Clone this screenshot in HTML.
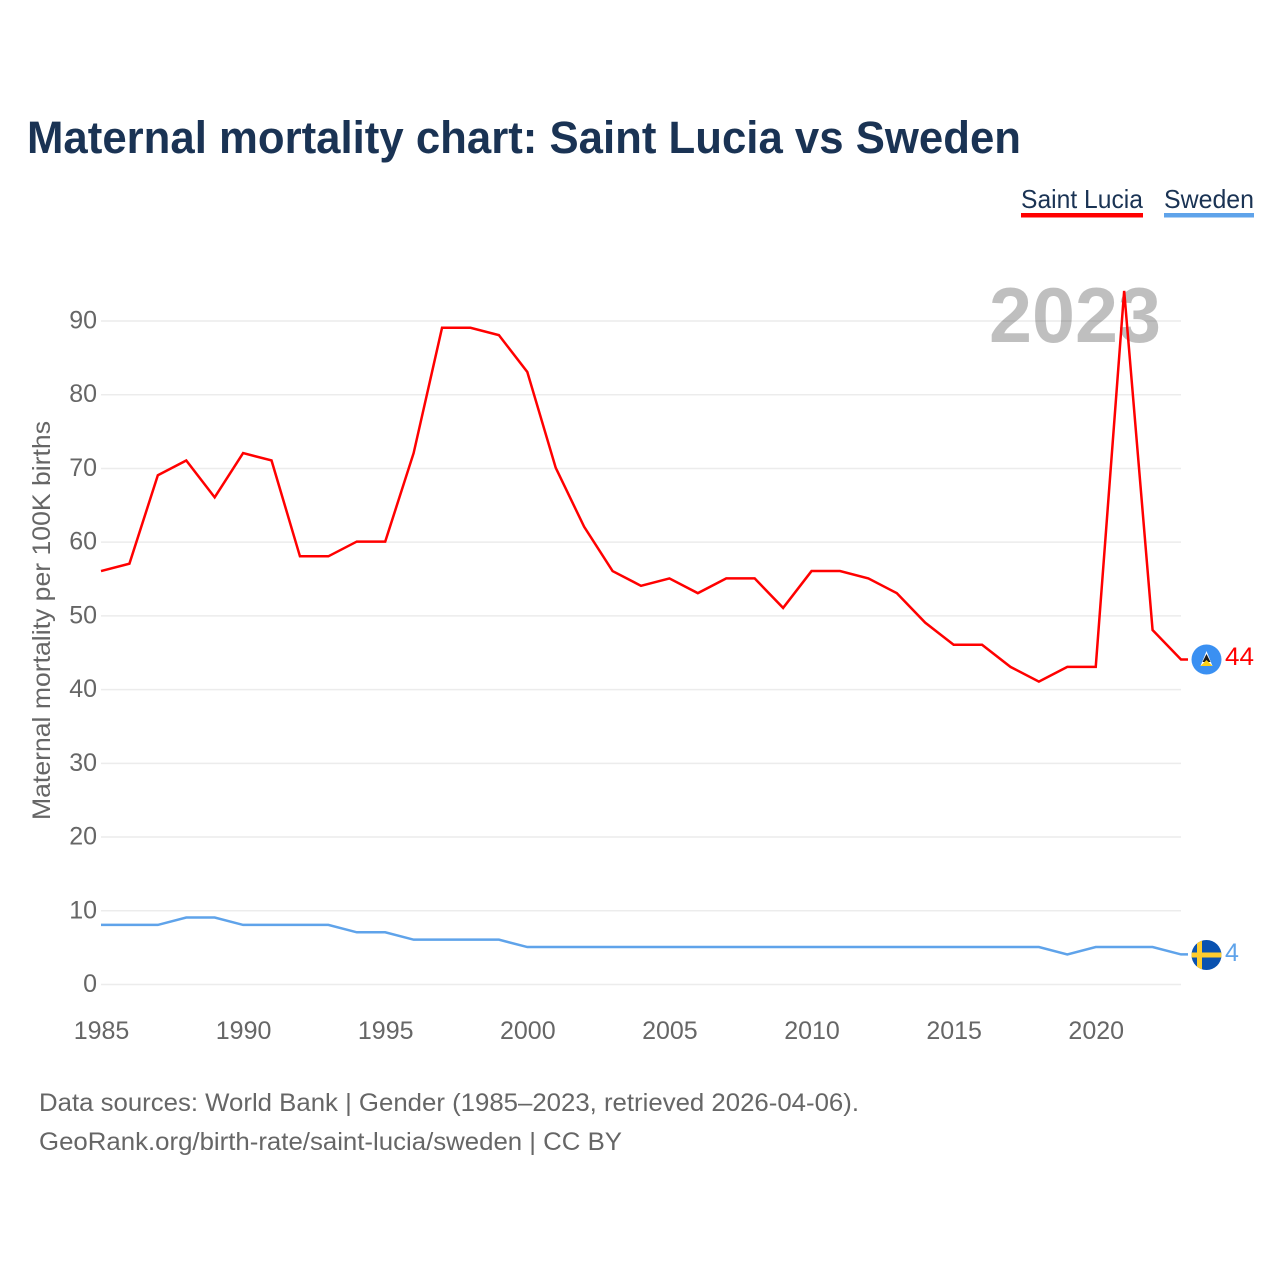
<!DOCTYPE html>
<html lang="en">
<head>
<meta charset="utf-8">
<title>Maternal mortality chart: Saint Lucia vs Sweden</title>
<style>
html,body{margin:0;padding:0;background:#fff;}
svg{display:block;font-family:"Liberation Sans",sans-serif;}
</style>
</head>
<body>
<svg id="chart" xmlns="http://www.w3.org/2000/svg" width="1280" height="1280" viewBox="0 0 1280 1280">
  <rect x="0" y="0" width="1280" height="1280" fill="#ffffff"/>
  <text x="27" y="153" font-size="45" font-weight="700" fill="#1a3354" textLength="994" lengthAdjust="spacingAndGlyphs">Maternal mortality chart: Saint Lucia vs Sweden</text>

  <g>
    <text x="1021" y="208" font-size="26" fill="#1a3354" textLength="122" lengthAdjust="spacingAndGlyphs">Saint Lucia</text>
    <rect x="1021" y="213" width="122" height="4.5" fill="#ff0000"/>
  </g>
  <g>
    <text x="1164" y="208" font-size="26" fill="#1a3354" textLength="90" lengthAdjust="spacingAndGlyphs">Sweden</text>
    <rect x="1164" y="213" width="90" height="4.5" fill="#5fa3ea"/>
  </g>

  <g id="grid"></g>
  <text x="989" y="342" font-size="78" font-weight="700" fill="#000000" fill-opacity="0.25" textLength="172" lengthAdjust="spacingAndGlyphs">2023</text>
  <g id="yticks"></g>
  <g id="xticks"></g>
  <text transform="translate(50 820) rotate(-90)" font-size="25" fill="#666666" textLength="399" lengthAdjust="spacingAndGlyphs">Maternal mortality per 100K births</text>

  <g id="series"></g>

  <g id="flag-lc">
    <circle cx="1206.5" cy="659.5" r="15" fill="#3a90f2"/>
    <polygon points="1206.5,651 1212.5,666 1200.5,666" fill="#ffffff"/>
    <polygon points="1206.5,654 1210.5,662 1202.5,662" fill="#1a1a1a"/>
    <polygon points="1206.5,660 1212.5,666 1200.5,666" fill="#fcd116"/>
  </g>
  <text id="end-lc" x="1225" y="665" font-size="25" fill="#ff0000" textLength="29" lengthAdjust="spacingAndGlyphs">44</text>

  <g id="flag-se">
    <clipPath id="se-clip"><circle cx="1206.5" cy="955" r="15"/></clipPath>
    <g clip-path="url(#se-clip)">
      <rect x="1191" y="939" width="31" height="32" fill="#0a52b0"/>
      <rect x="1197" y="939" width="5" height="32" fill="#fecc2f"/>
      <rect x="1191" y="952.5" width="31" height="5" fill="#fecc2f"/>
    </g>
  </g>
  <text id="end-se" x="1225" y="961" font-size="25" fill="#5fa3ea">4</text>

  <text x="39" y="1111" font-size="25" fill="#666666" textLength="820" lengthAdjust="spacingAndGlyphs">Data sources: World Bank | Gender (1985–2023, retrieved 2026-04-06).</text>
  <text x="39" y="1150" font-size="25" fill="#666666" textLength="583" lengthAdjust="spacingAndGlyphs">GeoRank.org/birth-rate/saint-lucia/sweden | CC BY</text>
</svg>
<script>
const years = [1985,1986,1987,1988,1989,1990,1991,1992,1993,1994,1995,1996,1997,1998,1999,2000,2001,2002,2003,2004,2005,2006,2007,2008,2009,2010,2011,2012,2013,2014,2015,2016,2017,2018,2019,2020,2021,2022,2023];
const saintLucia = [56,57,69,71,66,72,71,58,58,60,60,72,89,89,88,83,70,62,56,54,55,53,55,55,51,56,56,55,53,49,46,46,43,41,43,43,94,48,44];
const sweden = [8,8,8,9,9,8,8,8,8,7,7,6,6,6,6,5,5,5,5,5,5,5,5,5,5,5,5,5,5,5,5,5,5,5,4,5,5,5,4];
const yTickLabels = [0,10,20,30,40,50,60,70,80,90];
const xTickLabels = [1985,1990,1995,2000,2005,2010,2015,2020];

const NS = 'http://www.w3.org/2000/svg';
const xScale = function (year) { return 101 + (year - 1985) * (1080 / 38); };
const yScale = function (value) { return 984.5 - value * (663.5 / 90); };
const lineOffset = -0.6;
const connectorEnd = 1188;

const grid = document.getElementById('grid');
const yticks = document.getElementById('yticks');
const xticks = document.getElementById('xticks');
const seriesGroup = document.getElementById('series');

yTickLabels.forEach(function (v) {
  const line = document.createElementNS(NS, 'line');
  
  
  line.setAttribute('x1', 101);
  line.setAttribute('x2', 1181);
  line.setAttribute('y1', yScale(v));
  line.setAttribute('y2', yScale(v));
  line.setAttribute('stroke', '#ececec');
  line.setAttribute('stroke-width', '1.5');
  grid.appendChild(line);

  const label = document.createElementNS(NS, 'text');
  
  
  label.setAttribute('x', 97);
  label.setAttribute('y', yScale(v) + 7.5);
  label.setAttribute('text-anchor', 'end');
  label.setAttribute('font-size', '25');
  label.setAttribute('fill', '#666666');
  label.textContent = v;
  yticks.appendChild(label);
});

xTickLabels.forEach(function (y) {
  const label = document.createElementNS(NS, 'text');
  
  
  label.setAttribute('x', xScale(y) + 0.5);
  label.setAttribute('y', 1039);
  label.setAttribute('text-anchor', 'middle');
  label.setAttribute('font-size', '25');
  label.setAttribute('fill', '#666666');
  label.textContent = y;
  xticks.appendChild(label);
});

function pathFor(values) {
  const body = values.map(function (v, i) {
    return (i === 0 ? 'M' : 'L') + xScale(years[i]).toFixed(2) + ' ' + (yScale(v) + lineOffset).toFixed(2);
  }).join(' ');
  return body + ' L' + connectorEnd + ' ' + (yScale(values[values.length - 1]) + lineOffset).toFixed(2);
}

const swedenLine = document.createElementNS(NS, 'path');


swedenLine.setAttribute('d', pathFor(sweden));
swedenLine.setAttribute('fill', 'none');
swedenLine.setAttribute('stroke', '#5fa3ea');
swedenLine.setAttribute('stroke-width', '2.5');
seriesGroup.appendChild(swedenLine);

const luciaLine = document.createElementNS(NS, 'path');


luciaLine.setAttribute('d', pathFor(saintLucia));
luciaLine.setAttribute('fill', 'none');
luciaLine.setAttribute('stroke', '#ff0000');
luciaLine.setAttribute('stroke-width', '2.5');
seriesGroup.appendChild(luciaLine);

document.getElementById('end-lc').textContent = saintLucia[saintLucia.length - 1];
document.getElementById('end-se').textContent = sweden[sweden.length - 1];
</script>
</body>
</html>
